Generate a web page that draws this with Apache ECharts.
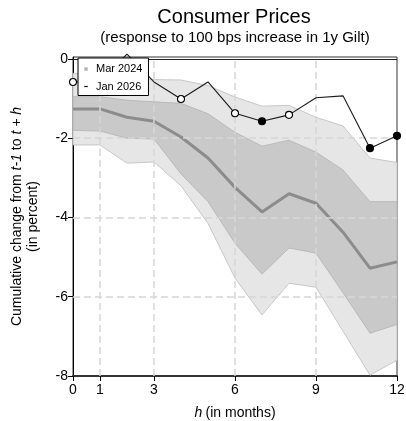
<!DOCTYPE html>
<html>
<head>
<meta charset="utf-8">
<script src="https://cdn.jsdelivr.net/npm/echarts@6/dist/echarts.min.js"></script>
<style>
  html, body { margin: 0; padding: 0; background: #fff; }
  #chart { width: 406px; height: 421px; }
</style>
</head>
<body>
<div id="chart"></div>
<script>
// Horizon in months
const horizons = [0, 1, 2, 3, 4, 5, 6, 7, 8, 9, 10, 11, 12];

// Mar 2024 estimate: median response and two credible bands (percent)
const mar2024Median = [-1.26, -1.26, -1.47, -1.57, -1.97, -2.50, -3.24, -3.86, -3.40, -3.64, -4.37, -5.28, -5.12];
const innerUpper = [-0.95, -0.95, -1.04, -1.08, -1.12, -1.38, -1.85, -2.20, -2.05, -2.35, -2.80, -3.60, -3.60];
const innerLower = [-1.80, -1.82, -2.00, -2.02, -2.90, -3.60, -4.65, -5.43, -4.77, -4.90, -5.90, -6.92, -6.70];
const outerUpper = [-0.36, -0.40, -0.45, -0.52, -0.53, -0.67, -0.96, -1.19, -1.17, -1.47, -1.69, -2.50, -2.61];
const outerLower = [-2.17, -2.17, -2.63, -2.60, -3.20, -4.15, -5.53, -6.46, -5.66, -5.76, -6.87, -7.98, -7.60];

// Jan 2026 estimate and the marker drawn at each horizon
const jan2026 = [-0.58, -0.56, 0.12, -0.58, -1.01, -0.58, -1.37, -1.57, -1.41, -0.98, -0.93, -2.25, -1.94];
const jan2026Marks = ['open', null, null, null, 'open', null, 'open', 'filled', 'open', null, null, 'filled', 'filled'];

// Axis ticks
const xTicks = [0, 1, 3, 6, 9, 12];
const yTicks = [-8, -6, -4, -2, 0];
const xGrid = [1, 3, 6, 9];
const yGrid = [-2, -4, -6];

const FONT = '"Liberation Sans", Arial, Helvetica, sans-serif';

function bandSeries(name, upper, lower, fill, stroke, z) {
  return {
    type: 'custom',
    name: name,
    z: z,
    silent: true,
    data: [[0, 0]],
    renderItem: function (params, api) {
      const pts = [];
      for (let i = 0; i < horizons.length; i++) pts.push(api.coord([horizons[i], upper[i]]));
      for (let i = horizons.length - 1; i >= 0; i--) pts.push(api.coord([horizons[i], lower[i]]));
      return {
        type: 'polygon',
        shape: { points: pts },
        style: { fill: fill, stroke: stroke, lineWidth: 0.8 }
      };
    }
  };
}

const janData = horizons.map(function (h, i) {
  const m = jan2026Marks[i];
  const item = { value: [h, jan2026[i]] };
  if (!m) {
    item.symbol = 'none';
  } else {
    item.symbol = 'circle';
    item.itemStyle = { color: m === 'filled' ? '#000' : '#fff', borderColor: '#000', borderWidth: 1.1 };
  }
  return item;
});

const dashed = { color: '#d6d6d6', width: 1.5, type: [7, 4] };

const chart = echarts.init(document.getElementById('chart'), null, { renderer: 'canvas' });
chart.setOption({
  animation: false,
  backgroundColor: '#fff',
  textStyle: { fontFamily: FONT },
  grid: {
    left: 73, right: 9, top: 57, bottom: 45,
    outerBoundsMode: 'none',
    containLabel: false,
    show: true, borderColor: '#333', borderWidth: 1, backgroundColor: 'transparent'
  },
  graphic: [
    {
      type: 'text', x: 234, y: 7, z: 10,
      style: { text: 'Consumer Prices', font: '20px ' + FONT, fill: '#000', align: 'center', verticalAlign: 'top' }
    },
    {
      type: 'text', x: 235, y: 30, z: 10,
      style: { text: '(response to 100 bps increase in 1y Gilt)', font: '15px ' + FONT, fill: '#000', align: 'center', verticalAlign: 'top' }
    }
  ],
  legend: {
    left: 78, top: 58,
    orient: 'vertical',
    backgroundColor: '#fff',
    borderColor: '#000',
    borderWidth: 1,
    borderRadius: 0,
    padding: [5, 6, 3, 3],
    itemWidth: 10,
    itemHeight: 12,
    itemGap: 5.5,
    z: 20,
    selectedMode: false,
    textStyle: { fontSize: 11, color: '#000', fontFamily: FONT },
    data: [
      { name: 'Mar 2024', icon: 'path://M0,0 M10,12 M3.3,4.3 L6.7,4.3 L6.7,7.7 L3.3,7.7 Z', itemStyle: { color: '#b4b4b4' } },
      { name: 'Jan 2026', icon: 'path://M0,0 M10,12 M3.3,5.4 L6.7,5.4 L6.7,6.6 L3.3,6.6 Z', itemStyle: { color: '#000' } }
    ]
  },
  xAxis: {
    type: 'value',
    min: 0, max: 12,
    name: '{i|h} {n|(in months)}',
    nameLocation: 'middle',
    nameGap: 30,
    nameTextStyle: {
      rich: {
        i: { fontSize: 14, fontStyle: 'italic', fontFamily: FONT, color: '#000' },
        n: { fontSize: 14, fontFamily: FONT, color: '#000' }
      }
    },
    axisLine: { show: true, onZero: false, lineStyle: { color: '#333', width: 1.8 } },
    axisTick: { show: true, length: 5, lineStyle: { color: '#000' }, customValues: xTicks },
    axisLabel: { fontSize: 14, color: '#000', margin: 7, fontFamily: FONT, customValues: xTicks },
    splitLine: { show: false }
  },
  yAxis: {
    type: 'value',
    min: -8, max: 0.05,
    name: '{n|Cumulative change from }{i|t-1}{n| to }{i|t + h}\n{n|(in percent)}',
    nameLocation: 'middle',
    nameRotate: 90,
    nameGap: 32,
    nameTextStyle: {
      lineHeight: 16,
      rich: {
        i: { fontSize: 14, fontStyle: 'italic', fontFamily: FONT, color: '#000', lineHeight: 16 },
        n: { fontSize: 14, fontFamily: FONT, color: '#000', lineHeight: 16 }
      }
    },
    axisLine: { show: true, onZero: false, lineStyle: { color: '#000', width: 1 } },
    axisTick: { show: true, length: 5, lineStyle: { color: '#000' }, customValues: yTicks },
    axisLabel: { fontSize: 14, color: '#000', margin: 5, fontFamily: FONT, customValues: yTicks },
    splitLine: { show: false }
  },
  series: [
    bandSeries('outer band', outerUpper, outerLower, '#e6e6e6', '#bdbdbd', 1),
    bandSeries('inner band', innerUpper, innerLower, '#c9c9c9', '#b3b3b3', 2),
    {
      // dashed grid and the zero line, drawn over the bands
      type: 'line',
      name: 'grid',
      data: [],
      z: 3,
      silent: true,
      markLine: {
        silent: true,
        symbol: 'none',
        label: { show: false },
        data: xGrid.map(function (v) { return { xAxis: v, lineStyle: dashed }; })
          .concat(yGrid.map(function (v) { return { yAxis: v, lineStyle: dashed }; }))
          .concat([{ yAxis: 0, lineStyle: { color: '#222', width: 1, type: 'solid' } }])
      }
    },
    {
      type: 'line',
      name: 'Mar 2024',
      z: 4,
      data: horizons.map(function (h, i) { return [h, mar2024Median[i]]; }),
      symbol: 'none',
      lineStyle: { color: '#8c8c8c', width: 3 },
      itemStyle: { color: '#b4b4b4' }
    },
    {
      type: 'line',
      name: 'Jan 2026',
      z: 5,
      clip: false,
      data: janData,
      symbolSize: 7,
      lineStyle: { color: '#1a1a1a', width: 1.1 },
      itemStyle: { color: '#000' }
    }
  ]
});
</script>
</body>
</html>
